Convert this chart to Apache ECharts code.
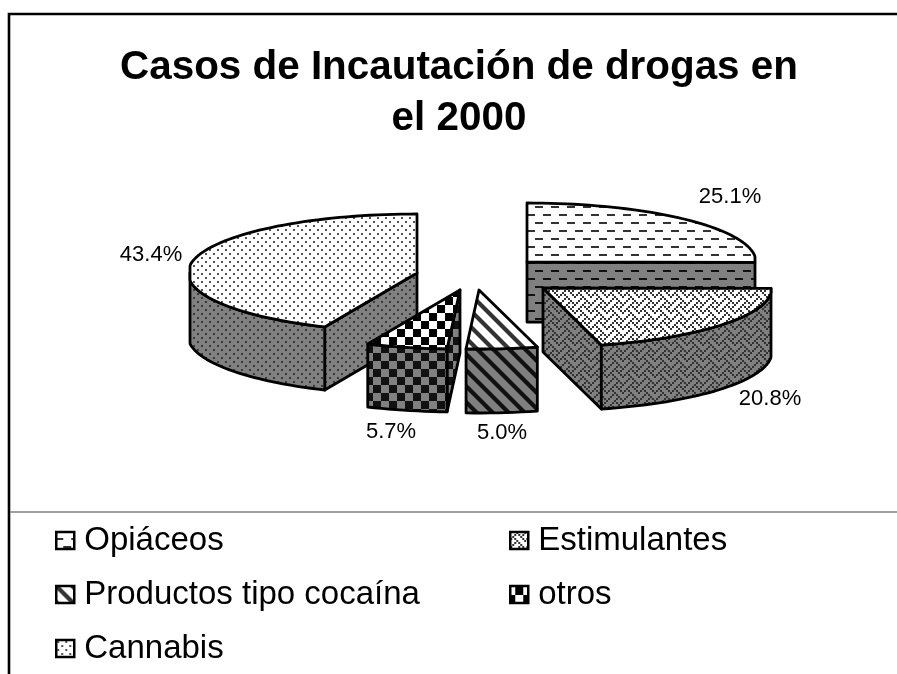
<!DOCTYPE html>
<html><head><meta charset="utf-8"><style>html,body{margin:0;padding:0;background:#fff}#c{width:897px;height:674px}</style>
<script src="https://cdn.jsdelivr.net/npm/echarts@6/dist/echarts.min.js"></script></head>
<body><div id="c"></div>
<script>
// Data, in pie order (clockwise from 12 o'clock)
const categories = ['Opiáceos','Estimulantes','Productos tipo cocaína','otros','Cannabis'];
const values = [25.1,20.8,5.0,5.7,43.4];
const titleLines = ['Casos de Incautación de drogas en','el 2000'];

// Layout of the exploded slices
const apex = [[527,262],[543,288],[479,290],[460,290],[417,273]];
const labelPos = [[730,197],[770,399],[502,433],[391,432],[151,255]];
const RX=229, RY=59, DEPTH=[60,64,64,63,63], CLAMP=227;
const drawOrder=[0,4,3,2,1];

function tile(w,h,bg,draw){const c=document.createElement('canvas');c.width=w;c.height=h;const g=c.getContext('2d');g.fillStyle=bg;g.fillRect(0,0,w,h);draw(g,w,h);return c;}
const weaveBits=[0x11,0x2a,0x44,0xa2,0x11,0x28,0x44,0x8a];
const painters=[
 (dk)=>[16,16,g=>{g.fillStyle=dk;g.fillRect(7,14,8,2);g.fillRect(15,6,1,2);g.fillRect(0,6,7,2);}],
 (dk)=>[16,16,g=>{g.fillStyle=dk;for(let y=0;y<8;y++)for(let x=0;x<8;x++)if((weaveBits[y]>>(7-x))&1)g.fillRect(x*2,y*2,2,2);}],
 (dk)=>[16,16,g=>{g.strokeStyle=dk;g.lineWidth=4.2;for(let k=-16;k<=16;k+=16){g.beginPath();g.moveTo(k-2,-2);g.lineTo(k+18,18);g.stroke();}}],
 (dk)=>[16,16,g=>{g.fillStyle=dk;for(let y=0;y<16;y++)for(let x=0;x<16;x++){if((Math.floor(((x+11)%16)/8)+Math.floor(((y+15)%16)/8))%2===0)g.fillRect(x,y,1,1);}}],
 (dk)=>[8,8,g=>{g.fillStyle=dk;g.fillRect(1,1,2,2);g.fillRect(5,5,2,2);}]
];
function pat(i,bg,dk){const [w,h,d]=painters[i](dk);return {image:tile(w,h,bg,d),repeat:'repeat'};}
const topFill=[0,1,2,3,4].map(i=>pat(i,'#ffffff',i===3?'#000':(i===4?'#555':'#333')));
const sideFill=[0,1,2,3,4].map(i=>pat(i,'#808080',i===4?'#3a3a3a':(i===1?'#333':'#111')));

const cum=[];values.reduce((s,v,i)=>{cum[i]=[s,s+v];return s+v;},0);
const total=values.reduce((a,b)=>a+b,0);
function arc(i,a0,a1){const pts=[];const [cx,cy]=apex[i];const n=Math.max(2,Math.ceil((a1-a0)/2));
  for(let k=0;k<=n;k++){const t=(a0+(a1-a0)*k/n)*Math.PI/180;
    let dx=RX*Math.sin(t);dx=Math.max(-CLAMP,Math.min(CLAMP+1,dx));
    pts.push([cx+dx,cy-RY*Math.cos(t)]);}
  return pts;}
const stroke={stroke:'#000',lineWidth:2.8,lineJoin:'round'};
function poly(points,fill){return {type:'polygon',shape:{points},style:Object.assign({fill},stroke)};}
function renderSlice(idx){return function(params,api){
  const pct=api.value(0);
  const a0=cum[idx][0]/total*360,a1=a0+pct/total*360;
  const [cx,cy]=apex[idx],d=DEPTH[idx],ch=[];
  const down=p=>[p[0],p[1]+d];
  const edge=a=>arc(idx,a,a)[0];
  // radial walls facing the viewer
  if(a0>90&&a0<270&&Math.cos((a0-90)*Math.PI/180)<0){const p=edge(a0);ch.push(poly([[cx,cy],p,down(p),[cx,cy+d]],sideFill[idx]));}
  if(a1>=90&&a1<=270&&Math.cos((a1+90)*Math.PI/180)<0){const p=edge(a1);ch.push(poly([[cx,cy],p,down(p),[cx,cy+d]],sideFill[idx]));}
  // outer wall (front half)
  const f0=Math.max(a0,90),f1=Math.min(a1,270);
  if(f1-f0>1){const top=arc(idx,f0,f1);ch.push(poly(top.concat(top.map(down).reverse()),sideFill[idx]));}
  // top face
  ch.push(poly([[cx,cy]].concat(arc(idx,a0,a1)),topFill[idx]));
  ch.push({type:'text',style:{text:pct.toFixed(1)+'%',x:labelPos[idx][0],y:labelPos[idx][1],align:'center',verticalAlign:'middle',fontFamily:'"Liberation Sans",Arial,sans-serif',fontSize:22,fill:'#000'},z2:50});
  return {type:'group',children:ch};
};}
const legendIcon=i=>({name:categories[i],icon:'rect',itemStyle:{color:topFill[i],borderColor:'#000',borderWidth:2.5}});
const legendBase={selectedMode:false,orient:'vertical',icon:'rect',itemWidth:18,itemHeight:17,itemGap:21,
  textStyle:{fontFamily:'"Liberation Sans",Arial,sans-serif',fontSize:33,color:'#000',padding:[0,0,6,5]}};
const chart=echarts.init(document.getElementById('c'),null,{renderer:'canvas'});
chart.setOption({
  animation:false,backgroundColor:'#fff',
  title:{text:titleLines.join('\n'),left:454,top:37,textAlign:'center',
    textStyle:{fontFamily:'"Liberation Sans",Arial,sans-serif',fontSize:40.4,fontWeight:'bold',color:'#000',lineHeight:51}},
  legend:[
    Object.assign({},legendBase,{left:50,top:519,data:[0,2,4].map(legendIcon)}),
    Object.assign({},legendBase,{left:504,top:519,data:[1,3].map(legendIcon)})
  ],
  graphic:[
    {type:'polyline',shape:{points:[[9,674],[9,14],[897,14]]},style:{fill:'none',stroke:'#000',lineWidth:2.6},z:10},
    {type:'line',shape:{x1:10,y1:512,x2:897,y2:512},style:{stroke:'#808080',lineWidth:1.5},z:10}
  ],
  series:drawOrder.map(i=>({type:'custom',name:categories[i],coordinateSystem:'none',silent:true,
    itemStyle:{color:topFill[i]},data:[[values[i]]],renderItem:renderSlice(i)}))
});
</script></body></html>
